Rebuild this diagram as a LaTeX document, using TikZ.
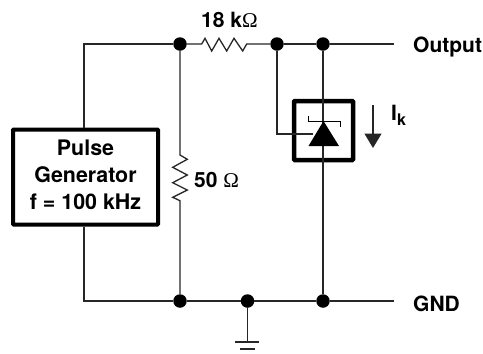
\documentclass[tikz,border=0pt]{standalone}
\usepackage{fontspec}
\setmainfont{TeX Gyre Heros}
\newfontfamily\omegafont{Liberation Serif}
\usetikzlibrary{arrows.meta}
\tikzset{
 wire/.style={line width=1.3pt,draw=black!85},
 dotnode/.style={circle,fill=black,inner sep=0pt,minimum size=13.5pt},
 heavybox/.style={draw=black,line width=4pt,fill=white,inner sep=0pt,rounded corners=0.8pt},
 lbl/.style={inner sep=0pt,font=\fontsize{21}{26}\selectfont\bfseries}
}
\begin{document}
\begin{tikzpicture}[x=1pt,y=-1pt]
\useasboundingbox (0,0) rectangle (483,354);
% junctions
\node[dotnode] (t1) at (180,44) {};
\node[dotnode] (t2) at (277,44) {};
\node[dotnode] (t3) at (323,44) {};
\node[dotnode] (b1) at (180,301) {};
\node[dotnode] (b2) at (247.5,301) {};
\node[dotnode] (b3) at (323,301) {};
\coordinate (outend) at (394,44);
\coordinate (gndend) at (394,301);
\coordinate (tl) at (84,44);
\coordinate (bl) at (84,301);
\coordinate (gnd) at (247.5,342);
% generator
\node[heavybox,minimum width=145pt,minimum height=95pt,align=center,lbl,font=\fontsize{21.4}{27}\selectfont\bfseries] (gen) at (85.5,177) {\rule{0pt}{0pt}Pulse\\Generator\\\raisebox{0pt}[\height][4pt]{f = 100 kHz}};
% wires
\draw[wire] (gen.north -| tl) -- (tl) -- (t1);
\draw[wire] (gen.south -| bl) -- (bl) -- (b1) -- (b2) -- (b3) -- (gndend);
\draw[wire] (t2) -- (t3) -- (outend);
% top resistor
\draw[wire,line join=miter] (t1) -- (201.7,44) -- (205,38.3) -- (211.7,51) -- (219,38.3) -- (226.7,51) -- (234,38.3) -- (242.7,51) -- (246.7,44) -- (t2);
% 50 ohm resistor
\draw[wire] (t1) -- (180,155) -- (187.3,159.3) -- (172.7,167.3) -- (187.3,175) -- (172.7,182.7) -- (187.3,190) -- (172.7,197.3) -- (180,200.7) -- (b1);
% ground
\draw[wire] (b2) -- (gnd);
\draw[wire] (235,342) -- (259,342);
\draw[wire] (240,349) -- (255,349);
% TVS box
\node[heavybox,minimum width=59pt,minimum height=59pt,line width=4.5pt] (tvs) at (323.5,130.5) {};
\draw[wire] (t3) -- (b3);
\draw[wire] (t2) |- (313,134);
\fill (323.5,121) -- (339,146) -- (308.5,146) -- cycle;
\draw[line width=1pt] (308.5,116) -- (308.5,121) -- (340,121) -- (340,127);
% current arrow
\coordinate (ia) at (373,105);
\coordinate (ib) at (373,148);
\draw[wire,-{Triangle[length=14.5pt,width=17pt]}] (ia) -- (ib);
% labels
\node[lbl,anchor=base west] (l1) at (201,27.5) {18 k{\omegafont\mdseries Ω}};
\node[lbl,anchor=base west] (l2) at (194,187) {50 {\omegafont\mdseries Ω}};
\node[lbl,anchor=base west] (l3) at (413,52) {Output};
\node[lbl,anchor=base west] (l4) at (413,311) {GND};
\node[lbl,anchor=base west] (l5) at (391,120) {I\raisebox{-5pt}{\fontsize{16}{16}\selectfont k}};
\end{tikzpicture}
\end{document}
